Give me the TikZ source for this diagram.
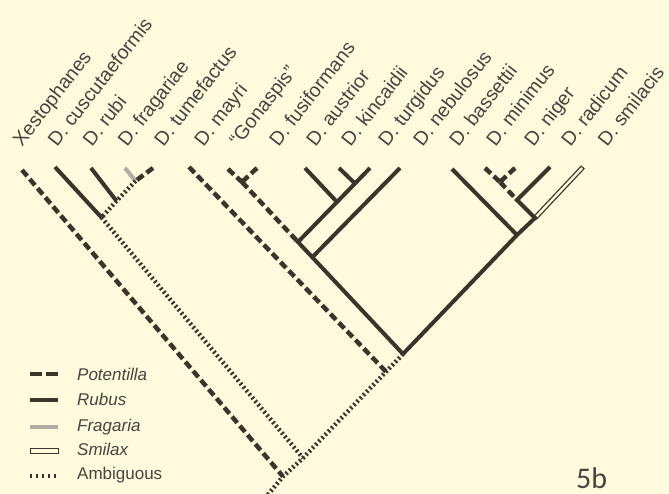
\documentclass[tikz,border=0pt]{standalone}
\usepackage{fontspec}
\setmainfont{Liberation Sans}
\newfontfamily\numfont{Carlito}
\usetikzlibrary{calc}
\definecolor{bg}{RGB}{254,250,222}
\definecolor{ink}{RGB}{58,53,40}
\definecolor{txt}{RGB}{72,68,60}
\definecolor{frag}{RGB}{176,173,160}
\begin{document}
\begin{tikzpicture}[x=1pt,y=-1pt,
  pot/.style={draw=ink,line width=4.5pt,dash pattern=on 8pt off 4pt},
  rub/.style={draw=ink,line width=4pt},
  fra/.style={draw=frag,line width=4pt},
  smiout/.style={draw=ink,line width=5pt},
  smiin/.style={draw=bg,line width=2.4pt},
  amb/.style={draw=ink,line width=4.4pt,dash pattern=on 2pt off 2.6pt},
  taxon/.style={rotate=52,anchor=base west,inner sep=0pt,text=txt,font=\fontsize{19.5}{22}\selectfont},
  legtext/.style={anchor=base west,inner sep=0pt,text=txt,font=\fontsize{17}{20}\selectfont},
]
\fill[bg] (0,0) rectangle (669,494);
\useasboundingbox (0,0) rectangle (669,494);
\clip (0,0) rectangle (669,494);

% tips
\coordinate (tX) at (22,170);
\coordinate (tCu) at (55,167);
\coordinate (tRu) at (91,168);
\coordinate (tFr) at (125,168);
\coordinate (tTu) at (153,168);
\coordinate (tMa) at (189,167);
\coordinate (tGo) at (228,169);
\coordinate (tFu) at (257,168);
\coordinate (tAu) at (305,168);
\coordinate (tKi) at (339,168);
\coordinate (tTg) at (370,168);
\coordinate (tNe) at (400,168);
\coordinate (tBa) at (452,169);
\coordinate (tMi) at (485,168);
\coordinate (tNi) at (515,168);
\coordinate (tRa) at (550,167);
\coordinate (tSm) at (583,167);
% internal nodes
\coordinate (nFT) at (135.5,181);
\coordinate (nRFT) at (116.5,201);
\coordinate (nCRFT) at (101.5,217.5);
\coordinate (nGF) at (242,182);
\coordinate (nKT) at (355,183.5);
\coordinate (nAKT) at (337,202);
\coordinate (nGFAKT) at (298,242);
\coordinate (nNe) at (312.5,257);
\coordinate (nMN) at (500,182);
\coordinate (nMNR) at (517,200);
\coordinate (nMNRS) at (535,218);
\coordinate (nRight) at (517,235);
\coordinate (nBig) at (403,354);
\coordinate (nCu) at (303,458);
\coordinate (nMa) at ($(nBig)!0.17!(nCu)$);
\coordinate (root) at (283,476.5);
\coordinate (rootEnd) at (266,497);

% branches
\draw[pot] (tX) -- (root);
\draw[amb] (nCRFT) -- (nCu);
\draw[amb] (nBig) -- (nMa) -- (nCu) -- (root) -- (rootEnd);
\draw[rub] (tCu) -- (nCRFT);
\draw[rub] (tRu) -- (nRFT);
\draw[fra] (tFr) -- (nFT);
\draw[pot] (tTu) -- (nFT);
\draw[amb] (nFT) -- (nRFT) -- (nCRFT);
\draw[pot] (tMa) -- (nMa);
\draw[pot] (tGo) -- (nGF);
\draw[pot] (tFu) -- (nGF);
\draw[pot] (nGF) -- (nGFAKT);
\draw[rub] (tAu) -- (nAKT);
\draw[rub] (tKi) -- (nKT);
\draw[rub] (tTg) -- (nKT);
\draw[rub] (nKT) -- (nAKT) -- (nGFAKT) -- (nBig);
\draw[rub] (tNe) -- (nNe);
\draw[rub] (tBa) -- (nRight);
\draw[pot] (tMi) -- (nMN);
\draw[pot] (tNi) -- (nMN);
\draw[pot] (nMN) -- (nMNR);
\draw[smiout] (tSm) -- (nMNRS);
\draw[smiin, shorten <=1.3pt, shorten >=2pt] (tSm) -- (nMNRS);
\draw[rub] (tRa) -- (nMNR) -- (nMNRS) -- (nRight) -- (nBig);

% taxon labels
\node[taxon] (lX)  at (22,147.5) {Xestophanes};
\node[taxon] (lCu) at (57,147.5) {D. cuscutaeformis};
\node[taxon] (lRu) at (92,147.5) {D. rubi};
\node[taxon] (lFr) at (127,147.5) {D. fragariae};
\node[taxon] (lTu) at (163.5,147.5) {D. tumefactus};
\node[taxon] (lMa) at (203.5,147.5) {D. mayri};
\node[taxon] (lGo) at (238.5,147.5) {“Gonaspis”};
\node[taxon] (lFu) at (278.5,147.5) {D. fusiformans};
\node[taxon] (lAu) at (315.5,147.5) {D. austrior};
\node[taxon] (lKi) at (350.5,147.5) {D. kincaidii};
\node[taxon] (lTg) at (387.5,147.5) {D. turgidus};
\node[taxon] (lNe) at (422.5,147.5) {D. nebulosus};
\node[taxon] (lBa) at (458.5,147.5) {D. bassettii};
\node[taxon] (lMi) at (495.5,147.5) {D. minimus};
\node[taxon] (lNi) at (533.5,147.5) {D. niger};
\node[taxon] (lRa) at (570.5,147.5) {D. radicum};
\node[taxon] (lSm) at (607,147.5) {D. smilacis};

% legend
\coordinate (g1a) at (30,374); \coordinate (g1b) at (58,374);
\coordinate (g2a) at (30,400); \coordinate (g2b) at (58,400);
\coordinate (g3a) at (30,427); \coordinate (g3b) at (58,427);
\coordinate (g4a) at (30,451); \coordinate (g4b) at (58,451);
\coordinate (g5a) at (30,475.5); \coordinate (g5b) at (58,475.5);
\draw[pot, line width=4pt, dash pattern=on 12pt off 4pt] (g1a) -- (g1b);
\draw[rub] (g2a) -- (g2b);
\draw[fra] (g3a) -- (g3b);
\draw[ink, line width=0.9pt, fill=bg] ($(g4a)+(0,-2.2)$) rectangle ($(g4b)+(0,2.2)$);
\draw[amb, line width=4pt, dash pattern=on 2pt off 4pt] (g5a) -- (g5b);
\node[legtext, font=\fontsize{17}{20}\selectfont\itshape] (t1) at (77,380) {Potentilla};
\node[legtext, font=\fontsize{17}{20}\selectfont\itshape] (t2) at (77,405.5) {Rubus};
\node[legtext, font=\fontsize{17}{20}\selectfont\itshape] (t3) at (77,431.5) {Fragaria};
\node[legtext, font=\fontsize{17}{20}\selectfont\itshape] (t4) at (77,455.5) {Smilax};
\node[legtext] (t5) at (77,479.5) {Ambiguous};

\node[anchor=base west, inner sep=0pt, text=txt, font=\numfont\fontsize{30}{34}\selectfont] (fig) at (576,488) {5b};
\end{tikzpicture}
\end{document}
